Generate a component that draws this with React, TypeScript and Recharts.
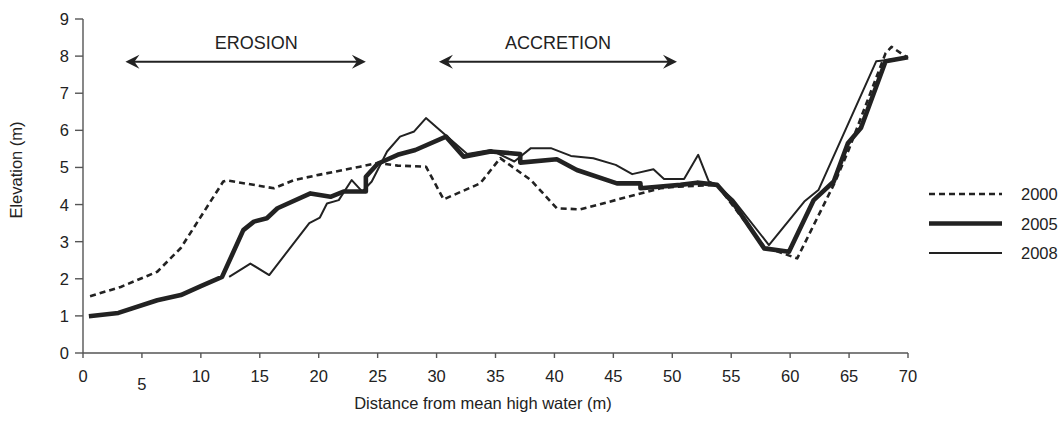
import React from "react";
import {
  LineChart,
  Line,
  XAxis,
  YAxis,
  ReferenceLine,
} from "recharts";

// distance (m) / elevation (m) pairs
const profile2000 = [
  { x: 0.6, y: 1.53 }, { x: 3.2, y: 1.78 }, { x: 6.3, y: 2.19 }, { x: 8.3, y: 2.83 },
  { x: 11.9, y: 4.62 }, { x: 12.2, y: 4.65 }, { x: 16.2, y: 4.44 }, { x: 17.9, y: 4.66 },
  { x: 20, y: 4.8 }, { x: 23.5, y: 5.02 }, { x: 25, y: 5.12 }, { x: 26.7, y: 5.05 },
  { x: 29.1, y: 5.02 }, { x: 30.6, y: 4.14 }, { x: 33.7, y: 4.57 }, { x: 35.4, y: 5.25 },
  { x: 38, y: 4.66 }, { x: 40.2, y: 3.9 }, { x: 42.2, y: 3.87 }, { x: 49, y: 4.44 },
  { x: 50.4, y: 4.48 }, { x: 53.8, y: 4.53 }, { x: 55, y: 4.03 }, { x: 57.8, y: 2.86 },
  { x: 60.6, y: 2.55 }, { x: 63.8, y: 4.6 }, { x: 65, y: 5.5 }, { x: 68.1, y: 8.08 },
  { x: 68.6, y: 8.25 }, { x: 70, y: 7.95 },
];

const profile2005 = [
  { x: 0.5, y: 0.99 }, { x: 3, y: 1.08 }, { x: 6.3, y: 1.42 }, { x: 8.3, y: 1.56 },
  { x: 10, y: 1.8 }, { x: 11.8, y: 2.05 }, { x: 13.6, y: 3.31 }, { x: 14.5, y: 3.54 },
  { x: 15.6, y: 3.63 }, { x: 16.5, y: 3.9 }, { x: 19.3, y: 4.3 }, { x: 21, y: 4.21 },
  { x: 22.1, y: 4.35 }, { x: 24, y: 4.35 }, { x: 24, y: 4.75 }, { x: 25, y: 5.1 },
  { x: 26.7, y: 5.34 }, { x: 28.2, y: 5.47 }, { x: 30.8, y: 5.83 }, { x: 32.3, y: 5.29 },
  { x: 34.6, y: 5.43 }, { x: 37.1, y: 5.36 }, { x: 37.1, y: 5.13 }, { x: 40.2, y: 5.22 },
  { x: 41.9, y: 4.93 }, { x: 45.3, y: 4.57 }, { x: 47.3, y: 4.57 }, { x: 47.3, y: 4.44 },
  { x: 50.7, y: 4.53 }, { x: 52.1, y: 4.59 }, { x: 53.8, y: 4.53 }, { x: 55.2, y: 4.03 },
  { x: 57.8, y: 2.82 }, { x: 59.9, y: 2.73 }, { x: 62, y: 4.12 }, { x: 63.7, y: 4.62 },
  { x: 64.9, y: 5.65 }, { x: 66, y: 6.06 }, { x: 68.1, y: 7.86 }, { x: 70, y: 7.97 },
];

const profile2008 = [
  { x: 12.4, y: 2.05 }, { x: 14.2, y: 2.41 }, { x: 15.8, y: 2.1 }, { x: 19.2, y: 3.5 },
  { x: 20.1, y: 3.65 }, { x: 20.7, y: 4.03 }, { x: 21.7, y: 4.12 }, { x: 22.8, y: 4.66 },
  { x: 23.7, y: 4.35 }, { x: 24.5, y: 4.62 }, { x: 25.8, y: 5.43 }, { x: 26.9, y: 5.83 },
  { x: 28.1, y: 5.97 }, { x: 29.1, y: 6.33 }, { x: 32.6, y: 5.36 }, { x: 34.6, y: 5.47 },
  { x: 36.6, y: 5.16 }, { x: 38, y: 5.52 }, { x: 39.7, y: 5.52 }, { x: 41.4, y: 5.31 },
  { x: 43.3, y: 5.25 }, { x: 45.2, y: 5.07 }, { x: 46.6, y: 4.82 }, { x: 48.4, y: 4.95 },
  { x: 49.3, y: 4.69 }, { x: 51, y: 4.69 }, { x: 52.2, y: 5.34 }, { x: 53.1, y: 4.62 },
  { x: 53.8, y: 4.53 }, { x: 55.2, y: 4.12 }, { x: 58.2, y: 2.91 }, { x: 61.2, y: 4.08 },
  { x: 62.4, y: 4.39 }, { x: 67.3, y: 7.86 }, { x: 68.1, y: 7.89 }, { x: 70, y: 7.97 },
];

const xTicks = [0, 5, 10, 15, 20, 25, 30, 35, 40, 45, 50, 55, 60, 65, 70];
const yTicks = [0, 1, 2, 3, 4, 5, 6, 7, 8, 9];

// double-headed arrows above the profile
const zones = [
  { label: "EROSION", from: 3.6, to: 24, labelAt: 14.7, y: 7.85 },
  { label: "ACCRETION", from: 30.2, to: 50.4, labelAt: 40.3, y: 7.85 },
];

const series = [
  { name: "2000", data: profile2000, width: 2.6, dash: "6 4" },
  { name: "2005", data: profile2005, width: 4.6, dash: undefined },
  { name: "2008", data: profile2008, width: 2, dash: undefined },
];

const FONT = '"Liberation Sans", Arial, sans-serif';
const INK = "#222";
const AXIS = "#555";

function XTick({ x, y, payload }: any) {
  // the "5" label sits lower than the others in the original figure
  const dy = payload.value === 5 ? 32 : 24;
  return (
    <text x={x} y={y + dy} textAnchor="middle" fontSize={16.5} fill={INK} fontFamily={FONT}>
      {payload.value}
    </text>
  );
}

function YTick({ x, y, payload }: any) {
  return (
    <text x={x - 6} y={y + 6} textAnchor="end" fontSize={16.5} fill={INK} fontFamily={FONT}>
      {payload.value}
    </text>
  );
}

function arrowShape(label: string, frac: number) {
  return (p: any) => {
    const { x1, y1, x2 } = p;
    const h = 7;
    const len = 14;
    const tx = x1 + frac * (x2 - x1);
    return (
      <g>
        <line x1={x1 + 4} y1={y1} x2={x2 - 4} y2={y1} stroke={INK} strokeWidth={2} />
        <path
          d={`M${x1},${y1} L${x1 + len},${y1 - h} L${x1 + len - 5},${y1} L${x1 + len},${y1 + h} Z`}
          fill={INK}
        />
        <path
          d={`M${x2},${y1} L${x2 - len},${y1 - h} L${x2 - len + 5},${y1} L${x2 - len},${y1 + h} Z`}
          fill={INK}
        />
        <text x={tx} y={y1 - 13} textAnchor="middle" fontSize={18} fill={INK} fontFamily={FONT}>
          {label}
        </text>
      </g>
    );
  };
}

function LegendBox() {
  return (
    <svg width={135} height={90} style={{ position: "absolute", left: 929, top: 182 }}>
      {series.map((s, i) => (
        <g key={s.name}>
          <line
            x1={0}
            x2={73}
            y1={12 + i * 29.5}
            y2={12 + i * 29.5}
            stroke={INK}
            strokeWidth={s.width}
            strokeDasharray={s.dash}
          />
          <text x={92} y={18 + i * 29.5} fontSize={16.5} fill={INK} fontFamily={FONT}>
            {s.name}
          </text>
        </g>
      ))}
    </svg>
  );
}

export default function App() {
  return (
    <div style={{ position: "absolute", left: 0, top: 0, width: 1064, height: 422, background: "#fff" }}>
      <LineChart width={1064} height={422} margin={{ top: 19, right: 156, left: 0, bottom: 0 }}>
        <XAxis
          type="number"
          dataKey="x"
          domain={[0, 70]}
          ticks={xTicks}
          interval={0}
          height={69}
          tickSize={5}
          tickMargin={0}
          stroke={AXIS}
          strokeWidth={1.4}
          tick={<XTick />}
          allowDuplicatedCategory={false}
          label={{
            value: "Distance from mean high water (m)",
            content: () => (
              <text x={483} y={409} textAnchor="middle" fontSize={16.5} fill={INK} fontFamily={FONT}>
                Distance from mean high water (m)
              </text>
            ),
          }}
        />
        <YAxis
          type="number"
          dataKey="y"
          domain={[0, 9]}
          ticks={yTicks}
          interval={0}
          width={83}
          tickSize={8}
          tickMargin={0}
          stroke={AXIS}
          strokeWidth={1.4}
          tick={<YTick />}
          label={{
            value: "Elevation (m)",
            content: () => (
              <text
                x={22}
                y={170}
                textAnchor="middle"
                fontSize={16.5}
                fill={INK}
                fontFamily={FONT}
                transform="rotate(-90 22 170)"
              >
                Elevation (m)
              </text>
            ),
          }}
        />
        {zones.map((z) => (
          <ReferenceLine
            key={z.label}
            segment={[
              { x: z.from, y: z.y },
              { x: z.to, y: z.y },
            ]}
            shape={arrowShape(z.label, (z.labelAt - z.from) / (z.to - z.from))}
          />
        ))}
        {series.map((s) => (
          <Line
            key={s.name}
            data={s.data}
            dataKey="y"
            name={s.name}
            type="linear"
            stroke={INK}
            strokeWidth={s.width}
            strokeDasharray={s.dash}
            strokeLinejoin="round"
            dot={false}
            activeDot={false}
            isAnimationActive={false}
          />
        ))}
      </LineChart>
      <LegendBox />
    </div>
  );
}
